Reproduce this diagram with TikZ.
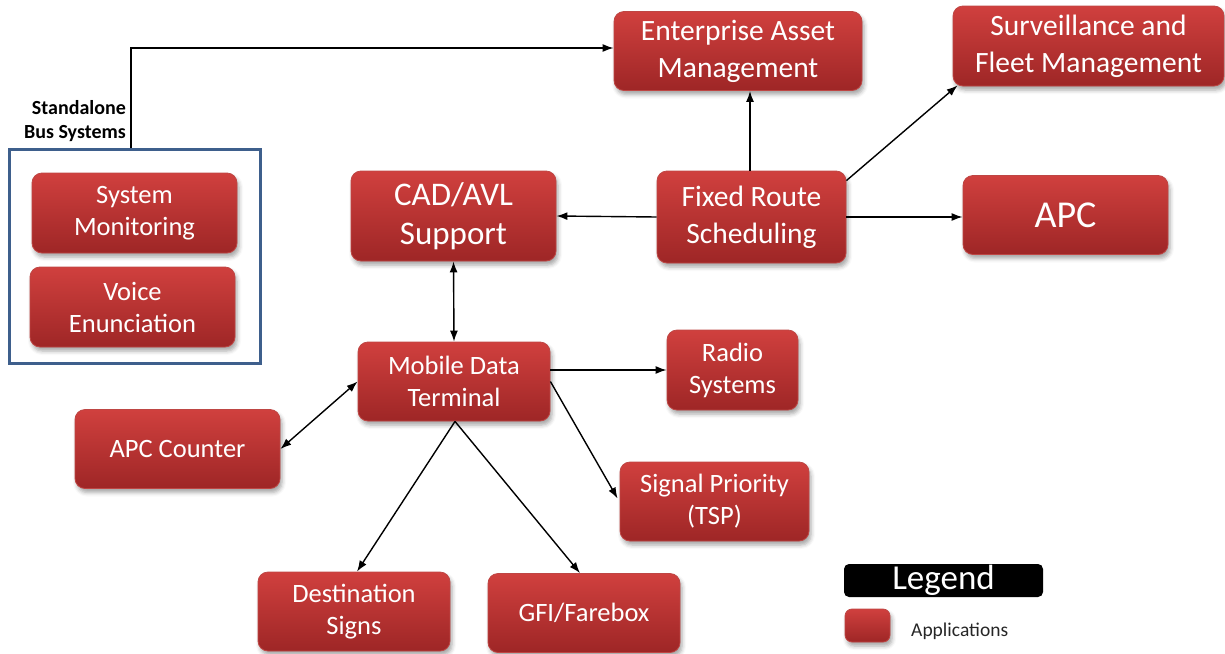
\documentclass[tikz,border=0pt]{standalone}
\usepackage{fontspec}
\setmainfont{Carlito}
\usetikzlibrary{arrows.meta,shadows.blur,calc}
\definecolor{appTop}{RGB}{208,64,62}
\definecolor{appBot}{RGB}{158,38,38}
\definecolor{appEdge}{RGB}{190,70,68}
\definecolor{frameBlue}{RGB}{62,95,140}
\tikzset{
  app/.style={rectangle, rounded corners=10pt, top color=appTop, bottom color=appBot,
    draw=appEdge, line width=0.8pt, text=white, align=center, inner sep=0pt,
    font=\fontsize{26.5}{32}\selectfont,
    blur shadow={shadow xshift=2pt, shadow yshift=-4pt, shadow blur radius=4pt, shadow opacity=35}},
  big/.style={font=\fontsize{29.5}{37}\selectfont},
  arr/.style={-{Latex[length=11pt,width=8pt]}, line width=1.4pt, black},
  darr/.style={{Latex[length=11pt,width=8pt]}-{Latex[length=11pt,width=8pt]}, line width=1.4pt, black},
}
\begin{document}
\begin{tikzpicture}[x=1pt,y=-1pt]
\useasboundingbox (0,0) rectangle (1225,653);

% standalone bus systems group
\node[draw=frameBlue, line width=2.6pt, minimum width=251pt, minimum height=214pt, inner sep=0pt] (frame) at (135,256.5) {};
\node[font=\fontsize{20}{24}\selectfont\bfseries, align=right, anchor=east, inner sep=0pt] (sblabel) at (126,121.5) {Standalone\\Bus Systems};
\node[app, minimum width=205pt, minimum height=80pt] (sysmon) at (134.5,213) {System\\Monitoring};
\node[app, minimum width=205pt, minimum height=80pt] (voice) at (132.5,307) {Voice\\Enunciation};

% application boxes
\node[app, big, minimum width=248pt, minimum height=79pt] (eam) at (738,51) {Enterprise Asset\\Management};
\node[app, big, minimum width=271pt, minimum height=80pt] (surv) at (1088.5,46) {Surveillance and\\Fleet Management};
\node[app, big, minimum width=189pt, minimum height=92pt] (frs) at (751.5,217) {Fixed Route\\Scheduling};
\node[app, minimum width=205pt, minimum height=79pt, font=\fontsize{38}{44}\selectfont] (apc) at (1065.5,215) {APC};
\node[app, minimum width=205pt, minimum height=90pt, font=\fontsize{33}{39}\selectfont] (cad) at (453.5,216) {CAD/AVL\\Support};
\node[app, minimum width=192pt, minimum height=79pt] (mdt) at (454,381.5) {Mobile Data\\Terminal};
\node[app, minimum width=131pt, minimum height=80pt] (radio) at (732.5,370) {Radio\\Systems};
\node[app, minimum width=205pt, minimum height=79pt] (apcc) at (177.5,449) {APC Counter};
\node[app, minimum width=189pt, minimum height=79pt] (tsp) at (714.5,501.5) {Signal Priority\\(TSP)};
\node[app, minimum width=192pt, minimum height=79pt] (dest) at (354,611.5) {Destination\\Signs};
\node[app, minimum width=192pt, minimum height=79pt] (gfi) at (584,613) {GFI/Farebox};

% legend
\node[fill=black, rounded corners=5pt, minimum width=199pt, minimum height=33pt, inner sep=0pt,
  text=white, font=\fontsize{35}{38}\selectfont] (legend) at (943.5,580.5) {Legend};
\node[app, rounded corners=7pt, minimum width=45pt, minimum height=33pt] (swatch) at (867.5,625.5) {};
\node[anchor=west, inner sep=0pt, font=\fontsize{19.5}{22}\selectfont, text=black!85] (legapp) at (911,631) {Applications};

% connectors
\coordinate (sbcorner) at (131,48);
\draw[arr] (frame.north -| sbcorner) -- (sbcorner) -- (sbcorner -| eam.west);
\draw[arr] (frs.north -| 750,0) -- (eam.south -| 750,0);
\draw[arr] (frs.21) -- ($(surv.south west)+(5,-1)$);
\draw[arr] (frs.east) -- (frs.east -| apc.west);
\draw[arr] (frs.west) -- (cad.east);
\draw[darr] (cad.south) -- (mdt.north);
\draw[darr] (mdt.west) -- (apcc.east);
\draw[arr] (mdt.east |- radio.west) -- (radio.west);
\draw[arr] (mdt.east) -- ($(tsp.west)+(-2,-3)$);
\draw[arr] ($(mdt.south)+(1,0)$) -- ($(dest.north)+(3,0)$);
\draw[arr] ($(mdt.south)+(1,0)$) -- ($(gfi.north)+(-4,0)$);
\end{tikzpicture}
\end{document}
